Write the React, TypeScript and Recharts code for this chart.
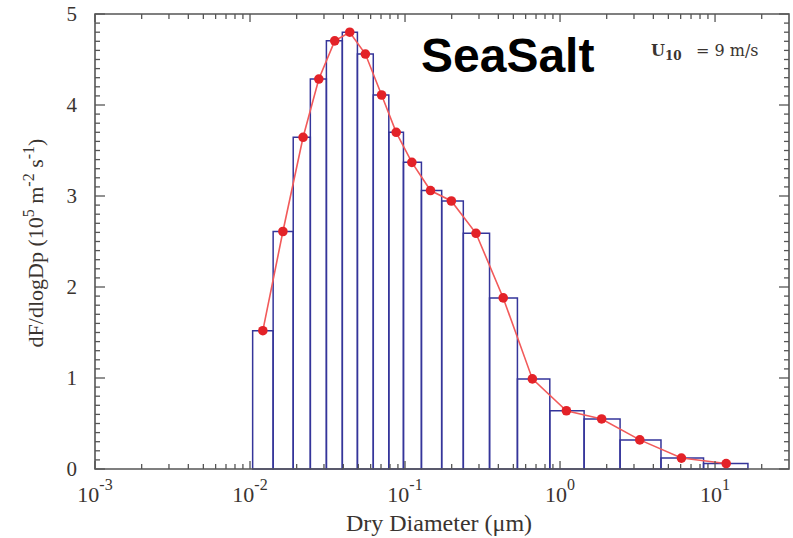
import { ComposedChart, Line, XAxis, YAxis, ReferenceArea } from 'recharts';

// histogram bin edges (µm)
const binEdges = [
  0.0104, 0.0141, 0.019, 0.0245, 0.0311, 0.0394, 0.0493, 0.0624, 0.0786, 0.0977,
  0.1276, 0.1724, 0.2377, 0.351, 0.531, 0.859, 1.43, 2.44, 4.48, 8.43, 16.3,
];
// dry diameters of the red markers (bin centres)
const binCenters = [
  0.0121, 0.0163, 0.022, 0.0278, 0.0352, 0.044, 0.0555, 0.0706, 0.0877, 0.1107,
  0.146, 0.199, 0.287, 0.43, 0.663, 1.099, 1.855, 3.27, 6.07, 11.8,
];
// dF/dlogDp, 10^5 m^-2 s^-1
const fluxValues = [
  1.52, 2.61, 3.645, 4.285, 4.705, 4.8, 4.56, 4.11, 3.7, 3.37,
  3.06, 2.945, 2.59, 1.88, 0.99, 0.64, 0.55, 0.32, 0.12, 0.06,
];

const xMajorTicks = [0.001, 0.01, 0.1, 1, 10];
const xMajorExponents = ['-3', '-2', '-1', '0', '1'];
const xMinorFactors = [2, 3, 4, 5, 6, 7, 8, 9];
const X_MAX = 30;
const yMajorTicks = [0, 1, 2, 3, 4, 5];

const xTicks = xMajorTicks
  .flatMap((m) => [m, ...xMinorFactors.map((f) => +(m * f).toPrecision(3))])
  .filter((t) => t < X_MAX);
const yTicks = Array.from({ length: 51 }, (_, i) => i / 10);

const lineData = binCenters.map((d, i) => ({ d, v: fluxValues[i] }));

const PLOT_W = 694;
const PLOT_H = 455;
const AXIS = '#555';
const LABEL = '#3a3430';
const SERIF = '"Liberation Serif", "Times New Roman", serif';

const XTick = (props: any) => {
  const { x, y, payload } = props;
  const v = payload.value;
  const idx = xMajorTicks.findIndex((t) => Math.abs(t - v) < t * 1e-6);
  const len = idx >= 0 ? 8 : 5;
  return (
    <g>
      <line x1={x} y1={y} x2={x} y2={y - len} stroke={AXIS} strokeWidth={1.3} />
      <line x1={x} y1={y - PLOT_H} x2={x} y2={y - PLOT_H + len} stroke={AXIS} strokeWidth={1.3} />
      {idx >= 0 && (
        <text x={x} y={y + 33} textAnchor="middle" fontFamily={SERIF} fontSize={22} fill={LABEL}>
          <tspan>10</tspan>
          <tspan dy={-12} fontSize={16}>{xMajorExponents[idx]}</tspan>
        </text>
      )}
    </g>
  );
};

const YTick = (props: any) => {
  const { x, y, payload } = props;
  const v = payload.value;
  const major = yMajorTicks.some((t) => Math.abs(t - v) < 1e-6);
  const len = major ? 10 : 5;
  return (
    <g>
      <line x1={x} y1={y} x2={x + len} y2={y} stroke={AXIS} strokeWidth={1.3} />
      <line x1={x + PLOT_W} y1={y} x2={x + PLOT_W - len} y2={y} stroke={AXIS} strokeWidth={1.3} />
      {major && (
        <text x={x - 18} y={y + 7} textAnchor="end" fontFamily={SERIF} fontSize={21} fill={LABEL}>
          {v}
        </text>
      )}
    </g>
  );
};

export default function App() {
  return (
    <div style={{ position: 'absolute', left: 0, top: 0, background: '#fff' }}>
      <ComposedChart
        width={793}
        height={538}
        data={lineData}
        margin={{ top: 14, right: 4, bottom: 0, left: 0 }}
      >
        <XAxis
          dataKey="d"
          type="number"
          scale="log"
          domain={[0.001, X_MAX]}
          allowDataOverflow
          ticks={xTicks}
          interval={0}
          tickSize={0}
          tickMargin={0}
          tickLine={false}
          axisLine={false}
          tick={<XTick />}
          height={69}
        />
        <YAxis
          type="number"
          domain={[0, 5]}
          allowDataOverflow
          ticks={yTicks}
          interval={0}
          tickSize={0}
          tickMargin={0}
          tickLine={false}
          axisLine={false}
          tick={<YTick />}
          width={95}
        />
        {fluxValues.map((v, i) => (
          <ReferenceArea
            key={i}
            x1={binEdges[i]}
            x2={binEdges[i + 1]}
            y1={0}
            y2={v}
            fill="none"
            stroke="#35359a"
            strokeWidth={1.5}
          />
        ))}
        <ReferenceArea
          x1={0.001}
          x2={X_MAX}
          y1={0}
          y2={5}
          fill="none"
          stroke={AXIS}
          strokeWidth={1.6}
        />
        <Line
          dataKey="v"
          stroke="#f25a5a"
          strokeWidth={1.6}
          dot={{ r: 4.8, fill: '#e32228', stroke: 'none' }}
          isAnimationActive={false}
        />
        <text
          x={43}
          y={243}
          transform="rotate(-90, 43, 243)"
          textAnchor="middle"
          fontFamily={SERIF}
          fontSize={22}
          fill={LABEL}
        >
          <tspan>dF/dlogDp (10</tspan>
          <tspan dy={-9} fontSize={16}>5</tspan>
          <tspan dy={9}> m</tspan>
          <tspan dy={-9} fontSize={16}>-2</tspan>
          <tspan dy={9}> s</tspan>
          <tspan dy={-9} fontSize={16}>-1</tspan>
          <tspan dy={9}>)</tspan>
        </text>
        <text x={439} y={531} textAnchor="middle" fontFamily={SERIF} fontSize={24} fill={LABEL}>
          Dry Diameter (μm)
        </text>
        <text
          x={421}
          y={72}
          fontFamily='"Liberation Sans", Arial, sans-serif'
          fontWeight="bold"
          fontSize={48}
          fill="#000"
        >
          SeaSalt
        </text>
        <text x={651} y={56} fontFamily='"DejaVu Serif", serif' fontSize={16} fontWeight="bold" fill={LABEL}>
          <tspan>U</tspan>
          <tspan dy={4} fontSize={12}>10</tspan>
          <tspan x={696} dy={-4} fontWeight="normal">= 9 m/s</tspan>
        </text>
      </ComposedChart>
    </div>
  );
}
